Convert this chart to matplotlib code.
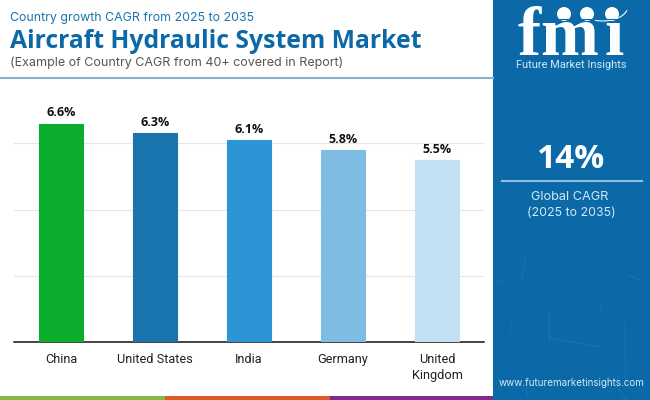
#!/usr/bin/env python3
import matplotlib; matplotlib.use("Agg"); import matplotlib.pyplot as plt
from matplotlib.patches import Rectangle, Circle, Arc

countries = ["China", "United States", "India", "Germany", "United\nKingdom"]
cagr = [6.6, 6.3, 6.1, 5.8, 5.5]
bar_colors = ["#0aad2c", "#1a75ae", "#2d94d6", "#7fbce3", "#c3e1f3"]
grid_vals = [2, 4, 6]
BLUE = "#0b69a8"
W, H = 650, 400

fig = plt.figure(figsize=(6.5, 4), dpi=100, facecolor="white")

# chart
ax = fig.add_axes([14/W, (H-342)/H, 470/W, 251.6/H])
ax.bar(range(5), cagr, 0.47, color=bar_colors, edgecolor=bar_colors, lw=0.8, joinstyle="round", zorder=3)
ax.set_xlim(-0.5, 4.5); ax.set_ylim(0, 7.6)
ax.set_yticks(grid_vals); ax.tick_params(axis="y", length=0, labelleft=False)
ax.grid(axis="y", color="#e6e6e6", lw=0.8, zorder=0); ax.set_axisbelow(True)
ax.set_xticks(range(5)); ax.set_xticklabels(countries, family="Roboto", fontsize=9.2, color="#222222", linespacing=1.25)
ax.tick_params(axis="x", length=0, pad=8)
for s in ["top", "left", "right"]: ax.spines[s].set_visible(False)
ax.spines["bottom"].set_color("#111111"); ax.spines["bottom"].set_linewidth(1.1)
for i, v in enumerate(cagr):
    ax.text(i, v+0.13, f"{v}%", ha="center", va="bottom", family="Open Sans", weight="bold", fontsize=9, color="#111111")

# everything else in pixel coords
ov = fig.add_axes([0, 0, 1, 1], zorder=5); ov.set_xlim(0, W); ov.set_ylim(H, 0); ov.axis("off")
ov.text(10.5, 18, "Country growth CAGR from 2025 to 2035", family="Inter", fontsize=8.9, color="#1a75ae", va="center")
ov.text(10.5, 41, "Aircraft Hydraulic System Market", family="Open Sans", weight="bold", fontsize=17.8, color=BLUE, va="center")
ov.text(10.5, 63, "(Example of Country CAGR from 40+ covered in Report)", family="Inter", fontsize=9, color="#555555", va="center")
ov.plot([0, 493], [78, 78], color="#8ab0cf", lw=1.5)

# footer strips
for x0, c in [(0, "#86b844"), (165, "#dc5a28"), (330, "#7f2a8c")]:
    ov.add_patch(Rectangle((x0, 396), 165, 4, color=c, lw=0))

# side panel
ov.add_patch(Rectangle((493, 0), 157, 400, color=BLUE, lw=0))
for x0, y0, x1, y1 in [(526, 253, 522, 278), (497, 280, 502, 282), (628, 275, 640, 280), (549, 338, 600, 347),
                       (625, 323, 626, 380), (549, 310, 549, 340), (617, 387, 627, 400), (526, 387, 528, 395),
                       (600, 305, 602, 310), (512, 322, 510, 332)]:
    ov.plot([x0, x1], [y0, y1], color="#2a7db5", lw=0.7, alpha=0.55)
ov.text(571, 160, "14%", family="Open Sans", weight="bold", fontsize=24, color="white", ha="center", va="center")
ov.plot([502, 642], [181, 181], color="#8fbfe0", lw=1.5)
ov.text(570, 197, "Global CAGR", family="Inter", fontsize=9.2, color="#d5e8f5", ha="center", va="center")
ov.text(571, 213, "(2025 to 2035)", family="Inter", fontsize=8.9, color="#d5e8f5", ha="center", va="center")
ov.text(572, 383, "www.futuremarketinsights.com", family="Inter", fontsize=7.1, color="#d5e8f5", ha="center", va="center")

# logo, letters placed one by one to get the wide spacing
for ch, lx in [("f", 517), ("m", 540), ("\u0131", 604)]:
    ov.text(lx, 55, ch, family="Liberation Serif", weight="bold", fontsize=50, color="white", ha="left", va="baseline")
for y in range(19, 58, 5):
    ov.plot([514, 630], [y, y], color=BLUE, lw=0.8)
for cx in [564, 587, 612]:
    ov.add_patch(Circle((cx, 14), 7, color="white", lw=0))
ov.add_patch(Arc((603, 6), 50, 30, theta1=10, theta2=120, color="white", lw=0.8))
ov.text(571, 64.5, "Future Market Insights", family="Roboto", fontsize=7.9, color="#d5e8f5", ha="center", va="center")

fig.savefig("out.png", dpi=100)
